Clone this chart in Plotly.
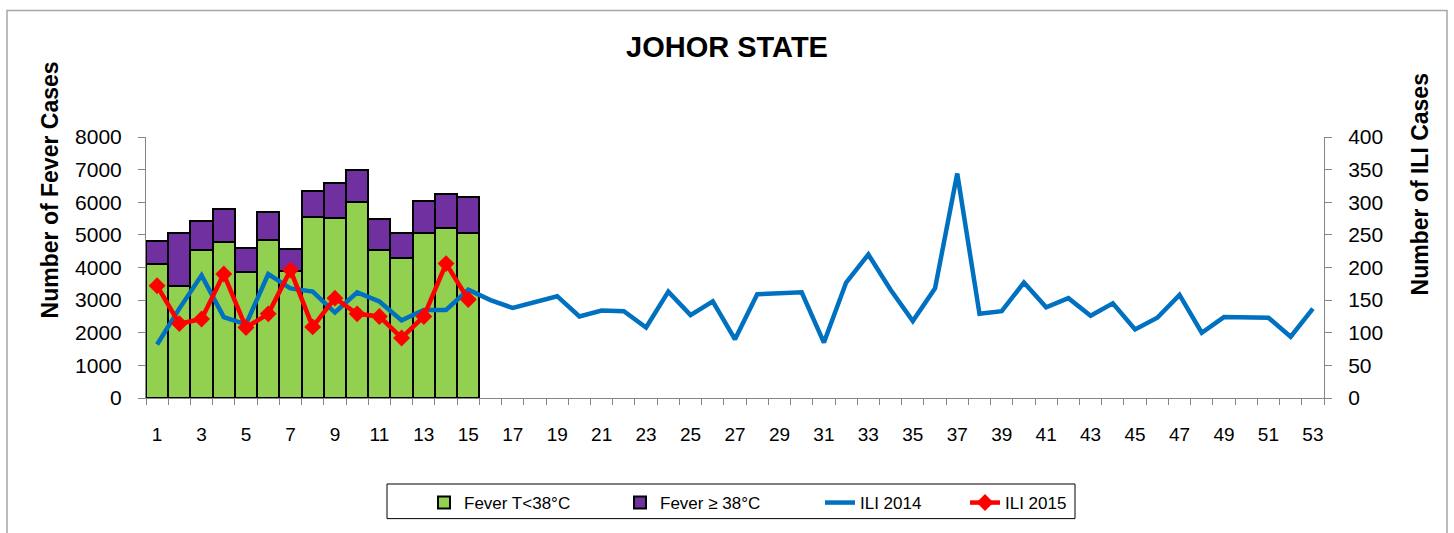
import plotly.graph_objects as go

weeks = list(range(1, 54))
weeks_2015 = list(range(1, 16))

fever_below_38 = [4100, 3445, 4545, 4797, 3848, 4848, 3889, 5535, 5505, 6010, 4535, 4283, 5050, 5202, 5070]
fever_38_plus = [727, 1605, 870, 1011, 758, 849, 687, 819, 1071, 980, 940, 787, 980, 1051, 1092]

ili_2014 = [82, 137, 188, 124, 113, 190, 168, 163, 131, 162, 148, 119, 135, 135, 166,
            150, 138, 147, 156, 125, 134, 133, 108, 163, 127, 148, 90, 159, 161, 162,
            85, 177, 220, 166, 118, 168, 344, 129, 133, 177, 139, 153, 126, 145, 105,
            123, 158, 100, 124, 124, 123, 94, 137]
ili_2015 = [172, 114, 121, 190, 108, 129, 196, 109, 153, 129, 125, 92, 125, 206, 151]

x_tick_vals = list(range(1, 54, 2))
x_tick_text = [str(v) for v in x_tick_vals]

FONT = "Arial, Liberation Sans, sans-serif"
AXIS_GRAY = "#868686"

W, H = 1454, 533
L, R, T, B = 146, 130, 137, 132
PW, PH = W - L - R, H - T - B


def px_x(x):
    return (x - L) / PW


def px_y(y):
    return (H - B - y) / PH


fig = go.Figure()
fig.add_trace(go.Bar(x=weeks_2015, y=fever_below_38, name="Fever T<38°C", legend="legend",
                     marker=dict(color="#92D050", line=dict(color="black", width=2))))
fig.add_trace(go.Bar(x=weeks_2015, y=fever_38_plus, name="Fever ≥ 38°C", legend="legend2",
                     marker=dict(color="#7030A0", line=dict(color="black", width=2))))
fig.add_trace(go.Scatter(x=weeks, y=ili_2014, name="ILI 2014", mode="lines", legend="legend3",
                         line=dict(color="#0070C0", width=4.5), yaxis="y2"))
fig.add_trace(go.Scatter(x=weeks_2015, y=ili_2015, name="ILI 2015", mode="lines+markers",
                         legend="legend4", line=dict(color="#FF0000", width=4.5),
                         marker=dict(symbol="diamond", size=13, color="#FF0000"), yaxis="y2"))


def legend_at(text_left_px):
    return dict(orientation="h", x=px_x(text_left_px - 40), xanchor="left", y=px_y(489),
                yanchor="top", borderwidth=0, bgcolor="rgba(0,0,0,0)", font=dict(size=17))


fig.update_layout(
    width=W, height=H,
    margin=dict(l=L, r=R, t=T, b=B),
    paper_bgcolor="white", plot_bgcolor="white",
    font=dict(family=FONT, color="black"),
    barmode="stack", bargap=0,
    title=dict(text="<b>JOHOR STATE</b>", x=0.5, xref="container", xanchor="center",
               y=1 - 47 / H, yref="container", yanchor="middle",
               font=dict(size=29, family=FONT, color="black")),
    xaxis=dict(range=[0.5, 53.5], tickmode="array", tickvals=x_tick_vals, ticktext=x_tick_text,
               showline=True, linecolor=AXIS_GRAY, linewidth=1, showgrid=False, zeroline=False,
               ticks="outside", ticklen=6, tickcolor="rgba(0,0,0,0)", ticklabelstandoff=13,
               tickfont=dict(size=19),
               minor=dict(ticks="outside", tick0=0.5, dtick=1, ticklen=6, tickcolor=AXIS_GRAY,
                          showgrid=False)),
    yaxis=dict(range=[0, 8000], dtick=1000, showline=True, linecolor=AXIS_GRAY, linewidth=1,
               showgrid=False, zeroline=False, ticks="outside", ticklen=7, tickcolor=AXIS_GRAY,
               ticklabelstandoff=12, tickfont=dict(size=21)),
    yaxis2=dict(range=[0, 400], dtick=50, overlaying="y", side="right", showline=True,
                linecolor=AXIS_GRAY, linewidth=1, showgrid=False, zeroline=False,
                ticks="outside", ticklen=7, tickcolor=AXIS_GRAY, ticklabelstandoff=12,
                tickfont=dict(size=21)),
    legend=legend_at(464),
    legend2=legend_at(660),
    legend3=legend_at(860),
    legend4=legend_at(1005),
    showlegend=True,
)

fig.add_annotation(text="<b>Number of Fever Cases</b>", textangle=-90, x=px_x(50), y=px_y(191),
                   xref="paper", yref="paper", xanchor="center", yanchor="middle",
                   showarrow=False, font=dict(size=23))
fig.add_annotation(text="<b>Number of ILI Cases</b>", textangle=-90, x=px_x(1420), y=px_y(185),
                   xref="paper", yref="paper", xanchor="center", yanchor="middle",
                   showarrow=False, font=dict(size=23))

# outer chart frame and legend box
fig.add_shape(type="rect", xref="paper", yref="paper", x0=px_x(7), x1=px_x(1447),
              y0=px_y(545), y1=px_y(9), line=dict(color="#A6A6A6", width=1.5), layer="below")
fig.add_shape(type="rect", xref="paper", yref="paper", x0=px_x(387), x1=px_x(1075),
              y0=px_y(523), y1=px_y(488), line=dict(color="black", width=1), layer="below")

fig.write_html("out.html", post_script="document.body.style.margin='0px';",
               config={"displayModeBar": False})
